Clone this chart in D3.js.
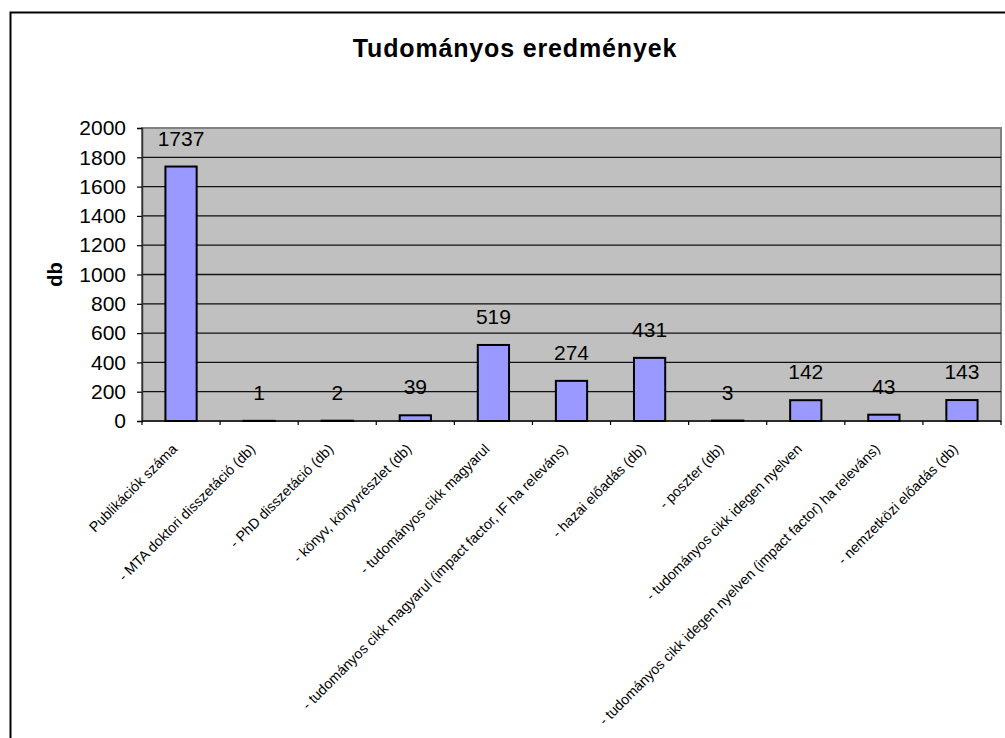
<!DOCTYPE html>
<html>
<head>
  <meta charset="utf-8">
  <title>Tudományos eredmények</title>
  <script src="https://d3js.org/d3.v7.min.js"></script>
  <style>
    body { margin: 0; background: #fff; }
    text { font-family: Arial, "Liberation Sans", sans-serif; }
  </style>
</head>
<body>
  <div id="chart"></div>

<script>
  // categories and values
  const categories = [
    "Publikációk száma",
    "- MTA doktori disszetáció (db)",
    "- PhD disszetáció (db)",
    "- könyv, könyvrészlet (db)",
    "- tudományos cikk magyarul",
    "- tudományos cikk magyarul (impact factor, IF ha releváns)",
    "- hazai előadás (db)",
    "- poszter (db)",
    "- tudományos cikk idegen nyelven",
    "- tudományos cikk idegen nyelven (impact factor) ha releváns)",
    "- nemzetközi előadás (db)"
  ];
  const values = [1737, 1, 2, 39, 519, 274, 431, 3, 142, 43, 143];
  const yTicks = [0, 200, 400, 600, 800, 1000, 1200, 1400, 1600, 1800, 2000];

  const W = 1005, H = 738;
  const plot = {left: 142, right: 1001, top: 128, bottom: 421};

  const svg = d3.select("#chart")
    .append("svg")
      .attr("width", W)
      .attr("height", H);

  // outer chart frame (runs off the right and bottom edge)
  svg.append("rect")
    .attr("x", 10.5).attr("y", 12.5)
    .attr("width", W + 20).attr("height", H + 20)
    .attr("fill", "#fff")
    .attr("stroke", "#000")
    .attr("stroke-width", 2);

  // title
  svg.append("text")
    .attr("x", 515)
    .attr("y", 57)
    .attr("text-anchor", "middle")
    .attr("font-size", 25)
    .attr("font-weight", "bold")
    .attr("letter-spacing", 0.85)
    .text("Tudományos eredmények");

  const x = d3.scaleBand()
    .domain(categories)
    .range([plot.left, plot.right])
    .padding(0);

  const y = d3.scaleLinear()
    .domain([0, 2000])
    .range([plot.bottom, plot.top]);

  // plot area
  svg.append("rect")
    .attr("x", plot.left).attr("y", plot.top)
    .attr("width", plot.right - plot.left)
    .attr("height", plot.bottom - plot.top)
    .attr("fill", "#c0c0c0")
    .attr("stroke", "#808080")
    .attr("stroke-width", 2);

  // gridlines
  svg.append("g")
    .selectAll("line")
    .data(yTicks.slice(1, -1))
    .join("line")
      .attr("x1", plot.left).attr("x2", plot.right)
      .attr("y1", d => y(d)).attr("y2", d => y(d))
      .attr("stroke", "#111")
      .attr("stroke-width", 1.3);

  // Y axis
  const yAxis = svg.append("g")
    .attr("transform", `translate(${plot.left},0)`)
    .call(d3.axisLeft(y).tickValues(yTicks).tickFormat(d3.format("d")).tickSize(5).tickPadding(11));
  yAxis.select(".domain").attr("stroke", "#333").attr("stroke-width", 1.5);
  yAxis.selectAll(".tick line").attr("stroke", "#000").attr("stroke-width", 1.2);
  yAxis.selectAll(".tick text")
    .attr("font-size", 21)
    .attr("fill", "#000")
    .style("font-family", "Arial, 'Liberation Sans', sans-serif");

  // Y title
  svg.append("text")
    .attr("transform", `translate(62,${(plot.top + plot.bottom) / 2}) rotate(-90)`)
    .attr("text-anchor", "middle")
    .attr("font-size", 20)
    .attr("font-weight", "bold")
    .text("db");

  // X axis line and ticks at category boundaries
  svg.append("line")
    .attr("x1", plot.left).attr("x2", plot.right)
    .attr("y1", plot.bottom).attr("y2", plot.bottom)
    .attr("stroke", "#111")
    .attr("stroke-width", 1.5);
  svg.append("g")
    .selectAll("line")
    .data(categories.map(c => x(c)).concat([x.range()[1]]))
    .join("line")
      .attr("x1", d => d).attr("x2", d => d)
      .attr("y1", plot.bottom).attr("y2", plot.bottom + 4)
      .attr("stroke", "#000")
      .attr("stroke-width", 1.2);

  // bars
  const barW = x.bandwidth() / 2.5;
  svg.append("g")
    .selectAll("rect")
    .data(values)
    .join("rect")
      .attr("x", (d, i) => x(categories[i]) + x.bandwidth() / 2 - barW / 2)
      .attr("y", d => y(d))
      .attr("width", barW)
      .attr("height", d => y(0) - y(d))
      .attr("fill", "#9999ff")
      .attr("stroke", "#000")
      .attr("stroke-width", 2);

  // value labels
  svg.append("g")
    .selectAll("text")
    .data(values)
    .join("text")
      .attr("x", (d, i) => x(categories[i]) + x.bandwidth() / 2)
      .attr("y", d => y(d) - 21)
      .attr("text-anchor", "middle")
      .attr("font-size", 21)
      .text(d => d);

  // rotated category labels
  svg.append("g")
    .selectAll("text")
    .data(categories)
    .join("text")
      .attr("transform", d => `translate(${x(d) + x.bandwidth() / 2 - 3},${plot.bottom + 29}) rotate(-45)`)
      .attr("text-anchor", "end")
      .attr("font-size", 14.2)
      .text(d => d);
</script>
</body>
</html>
